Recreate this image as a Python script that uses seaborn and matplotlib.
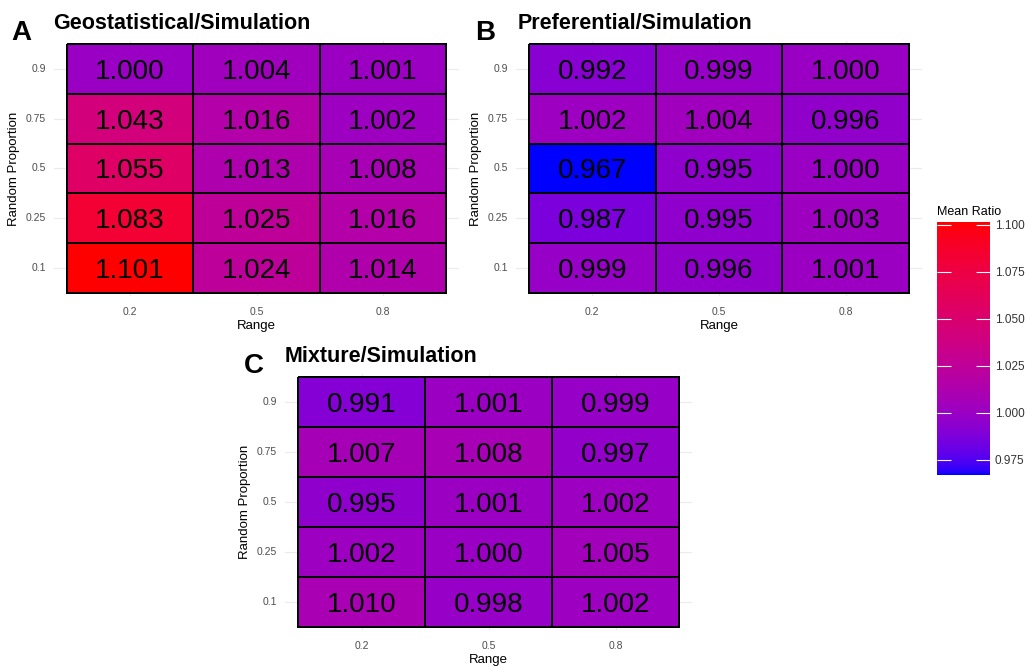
import numpy as np
import pandas as pd
import matplotlib
matplotlib.use("Agg")
import matplotlib.pyplot as plt
import seaborn as sns
from matplotlib.colors import ListedColormap

plt.rcParams["font.family"] = ["Liberation Sans", "DejaVu Sans"]

# ejes
rangos = ["0.2", "0.5", "0.8"]
proporciones = ["0.9", "0.75", "0.5", "0.25", "0.1"]  # de arriba hacia abajo

# valores (filas = proporcion, columnas = rango)
geo = [[1.000, 1.004, 1.001],
       [1.043, 1.016, 1.002],
       [1.055, 1.013, 1.008],
       [1.083, 1.025, 1.016],
       [1.101, 1.024, 1.014]]

pref = [[0.992, 0.999, 1.000],
        [1.002, 1.004, 0.996],
        [0.967, 0.995, 1.000],
        [0.987, 0.995, 1.003],
        [0.999, 0.996, 1.001]]

mix = [[0.991, 1.001, 0.999],
       [1.007, 1.008, 0.997],
       [0.995, 1.001, 1.002],
       [1.002, 1.000, 1.005],
       [1.010, 0.998, 1.002]]

titulos = ["Geostatistical/Simulation", "Preferential/Simulation", "Mixture/Simulation"]
letras = ["A", "B", "C"]
cb_ticks = [0.975, 1.000, 1.025, 1.050, 1.075, 1.100]

vmin, vmax = 0.967, 1.1015


#==================== gradiente azul -> rojo en espacio Lab ====================
M = np.array([[0.4124, 0.3576, 0.1805],
              [0.2126, 0.7152, 0.0722],
              [0.0193, 0.1192, 0.9505]])
blanco = np.array([0.95047, 1.0, 1.08883])

def rgb_a_lab(rgb):
    c = np.asarray(rgb, float)
    lin = np.where(c <= 0.04045, c / 12.92, ((c + 0.055) / 1.055) ** 2.4)
    xyz = M @ lin / blanco
    f = np.where(xyz > 216 / 24389, np.cbrt(xyz), (24389 / 27 * xyz + 16) / 116)
    return np.array([116 * f[1] - 16, 500 * (f[0] - f[1]), 200 * (f[1] - f[2])])

def lab_a_rgb(lab):
    L, a, b = lab
    fy = (L + 16) / 116
    fx = fy + a / 500
    fz = fy - b / 200
    f = np.array([fx, fy, fz])
    xyz = np.where(f ** 3 > 216 / 24389, f ** 3, (116 * f - 16) / (24389 / 27)) * blanco
    lin = np.linalg.solve(M, xyz)
    lin = np.clip(lin, 0, 1)
    c = np.where(lin <= 0.0031308, 12.92 * lin, 1.055 * lin ** (1 / 2.4) - 0.055)
    return np.clip(c, 0, 1)

lab_azul = rgb_a_lab([0, 0, 1])
lab_rojo = rgb_a_lab([1, 0, 0])
colores = [lab_a_rgb(lab_azul + t * (lab_rojo - lab_azul)) for t in np.linspace(0, 1, 256)]
cmap = ListedColormap(colores)

#==================== figura ====================
W, H = 1025, 666
fig = plt.figure(figsize=(W / 100, H / 100), dpi=100)

def pos(x0, y0, x1, y1):
    return [x0 / W, 1 - y1 / H, (x1 - x0) / W, (y1 - y0) / H]

# cajas de los mosaicos (sin la expansion del panel)
cajas = [(67, 44, 446, 293), (529, 44, 909, 293), (298, 377, 679, 627)]
# posicion de titulos y letras (pixeles, linea base)
pos_titulo = [(53, 29), (518, 29), (285, 362)]
pos_letra = [(11, 40), (475, 40), (244, 373)]
ex, ey = 0.1, 0.06

for datos, titulo, letra, caja, pt, pl in zip([geo, pref, mix], titulos, letras,
                                              cajas, pos_titulo, pos_letra):
    x0, y0, x1, y1 = caja
    dx = (x1 - x0) / 3 * ex
    dy = (y1 - y0) / 5 * ey
    ax = fig.add_axes(pos(x0 - dx, y0 - dy, x1 + dx, y1 + dy))
    df = pd.DataFrame(datos, index=proporciones, columns=rangos)
    sns.heatmap(df, ax=ax, cmap=cmap, vmin=vmin, vmax=vmax, cbar=False,
                annot=True, fmt=".3f", annot_kws={"size": 20, "color": "black"},
                linewidths=1.3, linecolor="black")
    # bajar un poco los numeros, como en la original
    for t in ax.texts:
        tx, ty = t.get_position()
        t.set_position((tx, ty + 0.06))
    ax.set_xlim(-ex, 3 + ex)
    ax.set_ylim(5 + ey, -ey)
    for s in ax.spines.values():
        s.set_visible(False)
    ax.tick_params(length=0, labelsize=7.5, colors="#4d4d4d")
    ax.tick_params(axis="x", pad=8)
    ax.tick_params(axis="y", pad=6, labelrotation=0)
    ax.set_xlabel("Range", fontsize=9.5, labelpad=2)
    ax.set_ylabel("Random Proportion", fontsize=9.5, labelpad=4)
    ax.grid(True, color="#ebebeb", linewidth=0.8)
    ax.set_axisbelow(True)
    fig.text(pt[0] / W, 1 - pt[1] / H, titulo, fontsize=15.5,
             fontweight="bold", ha="left", va="baseline")
    fig.text(pl[0] / W, 1 - pl[1] / H, letra, fontsize=20,
             fontweight="bold", ha="left", va="baseline")

# barra de color
cax = fig.add_axes(pos(937, 222, 990, 475))
sm = plt.cm.ScalarMappable(cmap=cmap, norm=plt.Normalize(vmin, vmax))
cb = fig.colorbar(sm, cax=cax, ticks=cb_ticks)
cb.outline.set_visible(False)
cb.ax.set_yticklabels([f"{t:.3f}" for t in cb_ticks])
cax.yaxis.set_ticks_position("both")
cax.tick_params(direction="in", length=10, color="white", width=0.8,
                labelsize=8.5, labelcolor="#333333", labelright=True, labelleft=False)
cax.set_title("Mean Ratio", fontsize=9, loc="left", pad=5)

plt.savefig("out.png", dpi=100)
